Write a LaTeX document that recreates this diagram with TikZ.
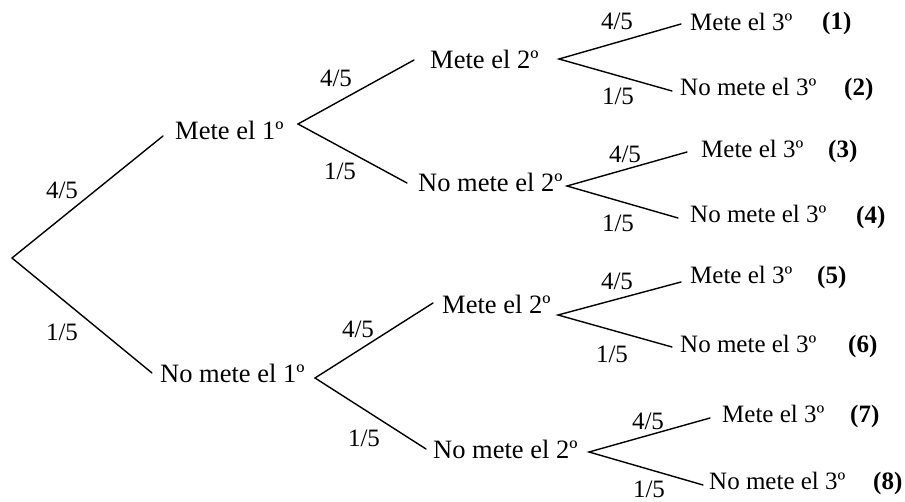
\documentclass[tikz,border=0pt]{standalone}
\usepackage{fontspec}
\setmainfont{Liberation Serif}
\begin{document}
\begin{tikzpicture}[x=1pt,y=-1pt,
  txt/.style={inner sep=0pt,text height=0.68em,text depth=0pt,yshift=-3pt},
  lbl/.style={txt,anchor=west,font=\fontsize{26.5}{30}\selectfont},
  lblc/.style={txt,anchor=west,font=\fontsize{25}{28}\selectfont},
  num/.style={txt,anchor=west,font=\fontsize{25}{28}\selectfont\bfseries},
  prob/.style={txt,anchor=center,font=\fontsize{25}{28}\selectfont},
  br/.style={line width=1.4pt,line cap=round,line join=miter}]
\useasboundingbox (0,0) rectangle (905,502);
% level 1
\coordinate (r) at (12,258);
\coordinate (e1a) at (163,136);
\coordinate (e1b) at (152,373);
\node[lbl] (m1) at (175,133) {Mete el 1º};
\node[lbl] (n1) at (160,376) {No mete el 1º};
\node[prob] (p1a) at (62,192) {4/5};
\node[prob] (p1b) at (62,334) {1/5};
\draw[br] (e1a) -- (r) -- (e1b);
% level 2 upper
\coordinate (v2a) at (298,124);
\coordinate (e2aa) at (414,60);
\coordinate (e2ab) at (407,183);
\node[lbl] (m2a) at (430,62) {Mete el 2º};
\node[lbl] (n2a) at (418,185) {No mete el 2º};
\node[prob] (p2aa) at (336,80) {4/5};
\node[prob] (p2ab) at (340,173) {1/5};
\draw[br] (e2aa) -- (v2a) -- (e2ab);
% level 2 lower
\coordinate (v2b) at (315,378);
\coordinate (e2ba) at (433,303);
\coordinate (e2bb) at (426,449);
\node[lbl] (m2b) at (442,307) {Mete el 2º};
\node[lbl] (n2b) at (433,452) {No mete el 2º};
\node[prob] (p2ba) at (358,331) {4/5};
\node[prob] (p2bb) at (364,440) {1/5};
\draw[br] (e2ba) -- (v2b) -- (e2bb);
% level 3 : (1),(2)
\coordinate (v3a) at (559,59);
\coordinate (e3a1) at (681,24);
\coordinate (e3a2) at (672,91);
\node[lblc] (t1) at (690,24.5) {Mete el 3º};
\node[num] (k1) at (822,23) {(1)};
\node[lblc] (t2) at (680,89) {No mete el 3º};
\node[num] (k2) at (844,89) {(2)};
\node[prob] (q1) at (617,23) {4/5};
\node[prob] (q2) at (618,98) {1/5};
\draw[br] (e3a1) -- (v3a) -- (e3a2);
% (3),(4)
\coordinate (v3b) at (567,186);
\coordinate (e3b1) at (687,152);
\coordinate (e3b2) at (678,218);
\node[lblc] (t3) at (701,151) {Mete el 3º};
\node[num] (k3) at (828,151) {(3)};
\node[lblc] (t4) at (690,216) {No mete el 3º};
\node[num] (k4) at (856,217) {(4)};
\node[prob] (q3) at (625,156) {4/5};
\node[prob] (q4) at (618,225) {1/5};
\draw[br] (e3b1) -- (v3b) -- (e3b2);
% (5),(6)
\coordinate (v3c) at (558,315);
\coordinate (e3c1) at (681,282);
\coordinate (e3c2) at (672,347);
\node[lblc] (t5) at (690,277) {Mete el 3º};
\node[num] (k5) at (817,277) {(5)};
\node[lblc] (t6) at (680,346) {No mete el 3º};
\node[num] (k6) at (848,346) {(6)};
\node[prob] (q5) at (617,283) {4/5};
\node[prob] (q6) at (612,356) {1/5};
\draw[br] (e3c1) -- (v3c) -- (e3c2);
% (7),(8)
\coordinate (v3d) at (589,452);
\coordinate (e3d1) at (710,418);
\coordinate (e3d2) at (703,485);
\node[lblc] (t7) at (722,416) {Mete el 3º};
\node[num] (k7) at (850,416) {(7)};
\node[lblc] (t8) at (709,483) {No mete el 3º};
\node[num] (k8) at (873,483) {(8)};
\node[prob] (q7) at (648,423) {4/5};
\node[prob] (q8) at (649,491) {1/5};
\draw[br] (e3d1) -- (v3d) -- (e3d2);
\end{tikzpicture}
\end{document}
